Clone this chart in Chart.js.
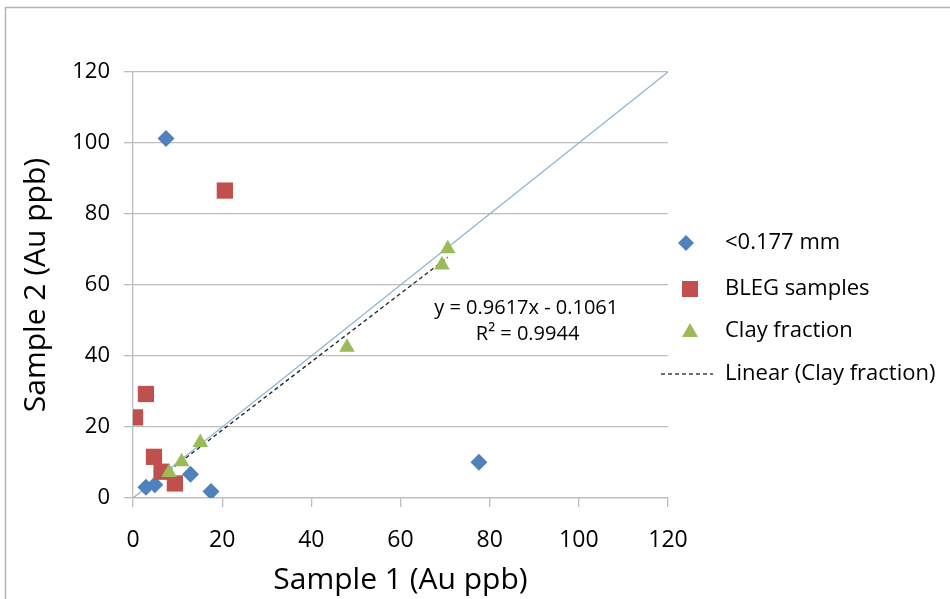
<!DOCTYPE html>
<html>
<head>
<meta charset="utf-8">
<script src="https://cdn.jsdelivr.net/npm/chart.js@4.4.0/dist/chart.umd.min.js"></script>
<style>
  body { margin: 0; background: #fff; }
  #wrap { position: relative; width: 950px; height: 599px; }
</style>
</head>
<body>
<div id="wrap"><canvas id="scatterCanvas" width="950" height="599"></canvas></div>
<script>
// valeurs
const fineX = [2.9, 4.9, 7.4, 12.9, 17.5, 77.6];
const fineY = [3.0, 3.7, 101.3, 6.7, 1.8, 10.1];
const blegX = [0.45, 2.9, 4.7, 6.4, 9.4, 20.6];
const blegY = [22.7, 29.3, 11.6, 7.4, 4.1, 86.6];
const clayX = [8.1, 10.9, 15.1, 48.0, 69.3, 70.6];
const clayY = [7.2, 10.2, 15.6, 42.5, 65.6, 70.2];
const seriesNames = ["<0.177 mm", "BLEG samples", "Clay fraction", "Linear (Clay fraction)"];
const axisTicks = [0, 20, 40, 60, 80, 100, 120];
const trendSlope = 0.9617;
const trendIntercept = -0.1061;
const trendText = ["y = 0.9617x - 0.1061", "R\u00b2 = 0.9944"];

const FONT = "'Open Sans', sans-serif";
const GRID = "#bdbdbd";

function toPoints(xs, ys) {
    let pts = [];
    for (let i = 0; i < xs.length; i++) {
        pts.push({x: xs[i], y: ys[i]});
    }
    return pts;
}

let clayMin = Math.min(...clayX);
let clayMax = Math.max(...clayX);
let trendPoints = [
    {x: clayMin, y: trendSlope * clayMin + trendIntercept},
    {x: clayMax, y: trendSlope * clayMax + trendIntercept}
];
let onePoints = [
    {x: axisTicks[0], y: axisTicks[0]},
    {x: axisTicks[axisTicks.length - 1], y: axisTicks[axisTicks.length - 1]}
];

// cadre autour du graphique + texte de l'equation + legende
const framePlugin = {
    id: "framePlugin",
    beforeDraw(chart) {
        let ctx = chart.ctx;
        ctx.save();
        ctx.fillStyle = "#fff";
        ctx.fillRect(0, 0, chart.width, chart.height);
        ctx.strokeStyle = "#b5b5b5";
        ctx.lineWidth = 1.5;
        ctx.strokeRect(5.5, 7.5, 1000, 700);
        ctx.restore();
    },
    afterDraw(chart) {
        let ctx = chart.ctx;
        let sx = chart.scales.x, sy = chart.scales.y;
        ctx.save();
        ctx.fillStyle = "#000";
        ctx.font = "20px " + FONT;
        ctx.textAlign = "center";
        ctx.textBaseline = "middle";
        ctx.fillText(trendText[0], sx.getPixelForValue(88.2), sy.getPixelForValue(53.4));
        ctx.fillText(trendText[1], sx.getPixelForValue(88.5), sy.getPixelForValue(46.1));

        let lx = 686, ly = [243, 289, 331, 374];
        let colors = ["#4f81bd", "#c0504d", "#9bbb59"];
        ctx.fillStyle = colors[0];
        ctx.beginPath();
        ctx.moveTo(lx, ly[0] - 8); ctx.lineTo(lx + 8, ly[0]);
        ctx.lineTo(lx, ly[0] + 8); ctx.lineTo(lx - 8, ly[0]);
        ctx.closePath();
        ctx.fill();
        ctx.fillStyle = colors[1];
        ctx.fillRect(lx - 4, ly[1] - 8, 16, 16);
        ctx.fillStyle = colors[2];
        ctx.beginPath();
        ctx.moveTo(lx + 4, ly[2] - 8); ctx.lineTo(lx + 12, ly[2] + 6); ctx.lineTo(lx - 4, ly[2] + 6);
        ctx.closePath();
        ctx.fill();
        ctx.strokeStyle = "#404040";
        ctx.lineWidth = 1.3;
        ctx.setLineDash([4, 3]);
        ctx.beginPath();
        ctx.moveTo(661, ly[3]); ctx.lineTo(713, ly[3]);
        ctx.stroke();
        ctx.setLineDash([]);

        ctx.fillStyle = "#000";
        ctx.font = "22px " + FONT;
        ctx.textAlign = "left";
        for (let i = 0; i < seriesNames.length; i++) {
            ctx.fillText(seriesNames[i], 725, ly[i]);
        }
        ctx.restore();
    }
};

scatterCanvas = document.getElementById("scatterCanvas");

scatterChart = new Chart(scatterCanvas, {
    type: "scatter",
    data: {
        datasets: [{
            label: "1:1",
            data: onePoints,
            showLine: true,
            borderColor: "#8eb1d3",
            borderWidth: 1.3,
            pointRadius: 0,
            order: 5
        }, {
            label: seriesNames[3],
            data: trendPoints,
            showLine: true,
            borderColor: "#2a2a2a",
            borderWidth: 1.4,
            borderDash: [4, 3],
            pointRadius: 0,
            order: 4
        }, {
            label: seriesNames[0],
            data: toPoints(fineX, fineY),
            pointStyle: "rectRot",
            pointRadius: 8.5,
            backgroundColor: "#4f81bd",
            borderColor: "#4f81bd",
            borderWidth: 0,
            order: 3
        }, {
            label: seriesNames[1],
            data: toPoints(blegX, blegY),
            pointStyle: "rect",
            pointRadius: 11.5,
            backgroundColor: "#c0504d",
            borderColor: "#c0504d",
            borderWidth: 0,
            order: 2
        }, {
            label: seriesNames[2],
            data: toPoints(clayX, clayY),
            pointStyle: "triangle",
            pointRadius: 9,
            backgroundColor: "#9bbb59",
            borderColor: "#9bbb59",
            borderWidth: 0,
            order: 1
        }]
    },
    options: {
        responsive: false,
        animation: false,
        layout: { padding: { left: 0, top: 72, right: 282, bottom: 0 } },
        scales: {
            x: {
                type: "linear",
                min: 0,
                max: 120,
                afterFit: function(scale) { scale.height = 101; },
                afterBuildTicks: function(scale) { scale.ticks = axisTicks.map(v => ({value: v})); },
                grid: { drawOnChartArea: false, drawTicks: true, tickLength: 9, color: GRID, lineWidth: 1.3 },
                border: { display: true, color: GRID, width: 1.3 },
                ticks: { color: "#000", font: { family: FONT, size: 23 }, padding: 20, maxRotation: 0 },
                title: { display: true, text: "Sample 1 (Au ppb)", color: "#000", font: { family: FONT, size: 30 }, padding: { top: 0, bottom: 1 } }
            },
            y: {
                type: "linear",
                min: 0,
                max: 120,
                afterFit: function(scale) { scale.width = 133; },
                afterBuildTicks: function(scale) { scale.ticks = axisTicks.map(v => ({value: v})); },
                grid: { drawTicks: true, tickLength: 9, color: GRID, lineWidth: 1.3 },
                border: { display: true, color: GRID, width: 1.3 },
                ticks: { color: "#000", font: { family: FONT, size: 22 }, padding: 14 },
                title: { display: true, text: "Sample 2 (Au ppb)", color: "#000", font: { family: FONT, size: 30 }, padding: { top: 18, bottom: 0 } }
            }
        },
        plugins: { legend: { display: false }, tooltip: { enabled: false } } // legende dessinee a la main
    },
    plugins: [framePlugin]
});
</script>
</body>
</html>
